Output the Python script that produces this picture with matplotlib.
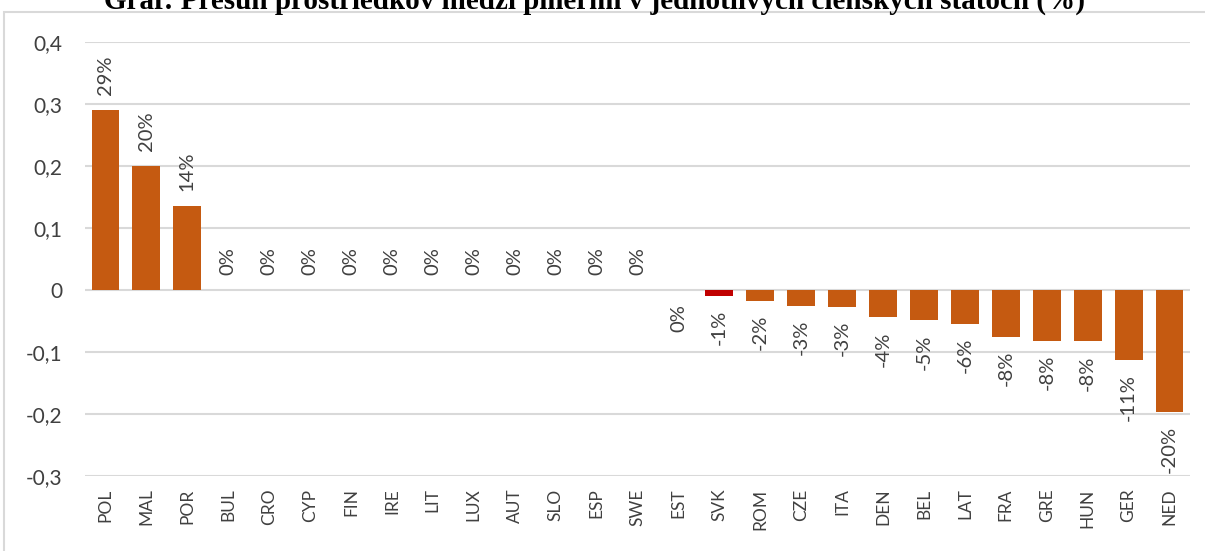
import matplotlib.pyplot as plt
from matplotlib.patches import Rectangle

states = ['POL', 'MAL', 'POR', 'BUL', 'CRO', 'CYP', 'FIN', 'IRE', 'LIT', 'LUX',
          'AUT', 'SLO', 'ESP', 'SWE', 'EST', 'SVK', 'ROM', 'CZE', 'ITA', 'DEN',
          'BEL', 'LAT', 'FRA', 'GRE', 'HUN', 'GER', 'NED']
shift = [0.29, 0.20, 0.135, 0, 0, 0, 0, 0, 0, 0,
         0, 0, 0, 0, -0.0004, -0.01, -0.018, -0.026, -0.027, -0.044,
         -0.049, -0.055, -0.076, -0.082, -0.083, -0.113, -0.196]
highlight = 'SVK'

orange = '#C55A11'
red = '#C00000'
text_grey = '#404040'
grid_grey = '#D9D9D9'

plt.rcParams['font.family'] = ['Lato', 'DejaVu Sans']

fig = plt.figure(figsize=(12.05, 5.51), dpi=100)
ax = fig.add_axes([85 / 1205, 1 - 476 / 551, 1105 / 1205, 434 / 551])

colors = [red if s == highlight else orange for s in states]
x = range(len(states))
ax.bar(x, shift, width=0.68, color=colors, zorder=3)

# value labels, rotated, above positive bars and below negative ones
for i, v in enumerate(shift):
    label = f"{int(round(v * 100))}%"
    if v >= 0:
        ax.annotate(label, (i, v), xytext=(0, 11), textcoords='offset points',
                    rotation=90, ha='center', va='bottom', fontsize=14.5,
                    color=text_grey)
    else:
        ax.annotate(label, (i, v), xytext=(0, -10), textcoords='offset points',
                    rotation=90, ha='center', va='top', fontsize=14.5,
                    color=text_grey)

ax.set_ylim(-0.3, 0.4)
ax.set_xlim(-0.5, len(states) - 0.5)
yticks = [-0.3, -0.2, -0.1, 0, 0.1, 0.2, 0.3, 0.4]
ax.set_yticks(yticks)
ax.set_yticklabels(['0' if t == 0 else f"{t:.1f}".replace('.', ',') for t in yticks])
ax.set_xticks(list(x))
ax.set_xticklabels(states, rotation=90)
ax.tick_params(axis='y', length=0, pad=16, labelsize=15, labelcolor=text_grey)
ax.tick_params(axis='x', length=0, pad=9, labelsize=12.5, labelcolor=text_grey)
ax.grid(axis='y', color=grid_grey, linewidth=1.5, zorder=0)
for sp in ax.spines.values():
    sp.set_visible(False)

# chart frame
fig.patches.append(Rectangle((4 / 1205, -0.05), 1.1, 1 - 12 / 551 + 0.05,
                             transform=fig.transFigure, fill=False,
                             edgecolor=grid_grey, linewidth=1.5))

fig.text(594 / 1205, 1 - 9 / 551,
         'Graf: Presun prostriedkov medzi piliermi v jednotlivých členských štátoch (%)',
         ha='center', va='baseline', fontsize=21, fontweight='bold',
         family='Liberation Serif', color='black')

fig.savefig('out.png', dpi=100)
